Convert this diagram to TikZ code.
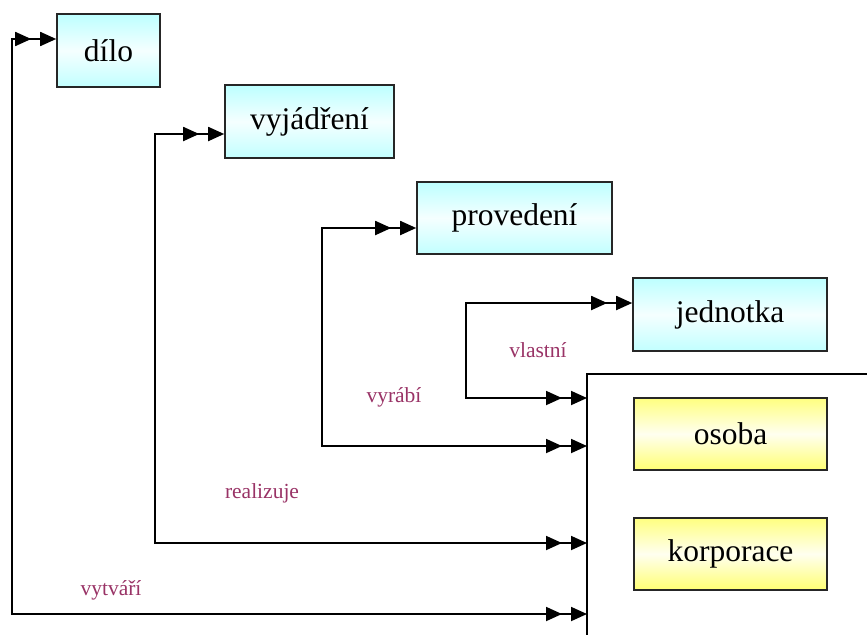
\documentclass[tikz,border=0pt]{standalone}
\usepackage{fontspec}
\setmainfont{Liberation Serif}
\usetikzlibrary{arrows.meta}
\definecolor{relcol}{RGB}{153,51,102}
\tikzset{
  entity/.style={draw=black!85, line width=1.6pt, inner sep=0pt,
    font=\fontsize{31.5}{36}\selectfont},
  cyanbox/.style={entity, top color=cyan!26, bottom color=cyan!24, middle color=cyan!4},
  yellowbox/.style={entity, top color=yellow!50, bottom color=yellow!55, middle color=yellow!6},
  rel/.style={text=relcol, font=\fontsize{21.5}{25}\selectfont},
  tri/.tip={Triangle[length=16pt,width=14pt]},
  link/.style={line width=1.8pt, {tri}-{tri},
    postaction={draw, line width=1.8pt, shorten <=25pt, shorten >=25pt, {tri}-{tri}}},
  frame/.style={line width=1.8pt}
}
\begin{document}
\begin{tikzpicture}[x=1pt,y=-1pt]
  \useasboundingbox (0,0) rectangle (867,635);

  % work, expression, manifestation, item
  \node[cyanbox, minimum width=103, minimum height=73] (dilo) at (108.5,50.5) {dílo};
  \node[cyanbox, minimum width=169, minimum height=73] (vyj) at (309.5,121.5) {vyjádření};
  \node[cyanbox, minimum width=195, minimum height=72] (prov) at (514.5,218) {provedení};
  \node[cyanbox, minimum width=194, minimum height=73] (jedn) at (730,314.5) {jednotka};

  % agents
  \node[yellowbox, minimum width=193, minimum height=72] (osoba) at (730.5,434) {osoba};
  \node[yellowbox, minimum width=193, minimum height=72] (korp) at (730.5,554) {korporace};

  % agent group frame
  \coordinate (fTop) at (587,374);
  \draw[frame] (867,374) -- (fTop) -- (587,635);

  % attachment points on the frame
  \coordinate (aVl) at (587,398);
  \coordinate (aVy) at (587,446);
  \coordinate (aRe) at (587,543);
  \coordinate (aVt) at (587,614);

  % relationships
  \draw[link] (aVl) -| (466,303) -- (jedn.west |- 0,303);
  \draw[link] (aVy) -| (322,228) -- (prov.west |- 0,228);
  \draw[link] (aRe) -| (155,134) -- (vyj.west |- 0,134);
  \draw[link] (aVt) -| (12,39) -- (dilo.west |- 0,39);

  \node[rel] (lVl) at (538,350) {vlastní};
  \node[rel] (lVy) at (394,397) {vyrábí};
  \node[rel] (lRe) at (262,493) {realizuje};
  \node[rel] (lVt) at (111,590) {vytváří};
\end{tikzpicture}
\end{document}
